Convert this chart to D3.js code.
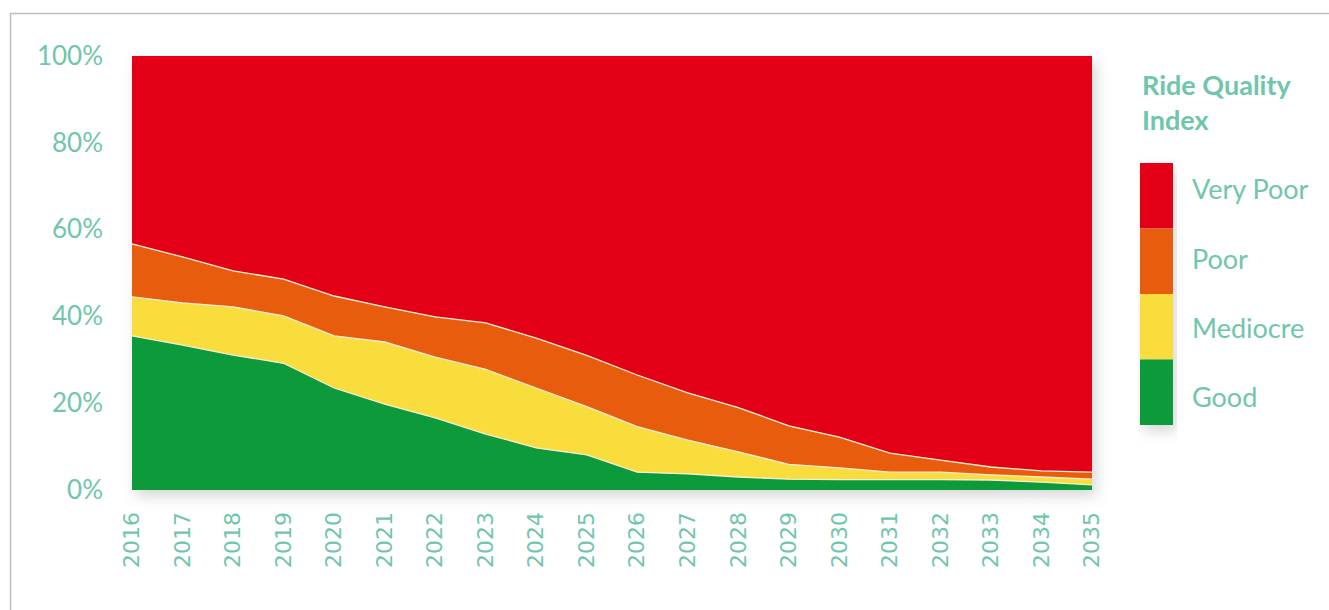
<!DOCTYPE html>
<html>
<head>
<meta charset="utf-8">
<script src="https://cdn.jsdelivr.net/npm/d3@7"></script>
<style>
  html, body { margin: 0; padding: 0; background: #ffffff; }
  svg { display: block; }
</style>
</head>
<body>
<svg id="chart" width="1329" height="610"></svg>
<script>
// ---- data ----
const years = ["2016","2017","2018","2019","2020","2021","2022","2023","2024","2025",
               "2026","2027","2028","2029","2030","2031","2032","2033","2034","2035"];
const good      = [35.5, 33.4, 31.1, 29.2, 23.5, 19.8, 16.6, 12.9, 9.7, 8.1, 4.1, 3.7, 3.0, 2.5, 2.4, 2.4, 2.4, 2.3, 1.8, 1.2];
const mediocre  = [9.0, 9.7, 11.1, 10.9, 12.0, 14.3, 14.0, 14.9, 13.8, 11.1, 10.5, 7.8, 5.8, 3.4, 2.7, 1.7, 1.7, 1.2, 1.2, 1.3];
const poor      = [12.2, 10.6, 8.3, 8.5, 9.2, 8.1, 9.3, 10.7, 11.5, 11.8, 11.9, 10.9, 10.2, 8.9, 7.1, 4.4, 2.8, 1.8, 1.4, 1.6];
const veryPoor  = [43.3, 46.3, 49.5, 51.4, 55.3, 57.8, 60.1, 61.5, 65.0, 69.0, 73.5, 77.6, 81.0, 85.2, 87.8, 91.5, 93.1, 94.7, 95.6, 95.9];
const seriesNames = ["Good", "Mediocre", "Poor", "Very Poor"];
const yTicks = [0, 20, 40, 60, 80, 100];
const legendTitle = ["Ride Quality", "Index"];

// ---- styling ----
const colors = { "Good": "#0a9a3b", "Mediocre": "#f9dd3e", "Poor": "#e85b0e", "Very Poor": "#e30613" };
const textColor = "#70c6aa";

const rows = years.map((y, i) => ({
  year: y, "Good": good[i], "Mediocre": mediocre[i], "Poor": poor[i], "Very Poor": veryPoor[i]
}));

const svg = d3.select("#chart");
const margin = { left: 132, right: 1092, top: 56, bottom: 490 };

const defs = svg.append("defs");
const f = defs.append("filter").attr("id", "shadow")
  .attr("x", "-5%").attr("y", "-5%").attr("width", "115%").attr("height", "125%");
f.append("feDropShadow").attr("dx", 4).attr("dy", 6).attr("stdDeviation", 7)
  .attr("flood-color", "#888").attr("flood-opacity", 0.35);

// outer frame (top and left edges visible)
svg.append("line").attr("x1", 10).attr("x2", 1329).attr("y1", 13.5).attr("y2", 13.5)
  .attr("stroke", "#bdbdbd").attr("stroke-width", 1.5);
svg.append("line").attr("x1", 10.5).attr("x2", 10.5).attr("y1", 13).attr("y2", 610)
  .attr("stroke", "#bdbdbd").attr("stroke-width", 1.5);

const x = d3.scalePoint().domain(years).range([margin.left, margin.right]);
const y = d3.scaleLinear().domain([0, 100]).range([margin.bottom, margin.top]);

const stack = d3.stack().keys(seriesNames);
const stacked = stack(rows);

const area = d3.area()
  .x(d => x(d.data.year))
  .y0(d => y(d[0]))
  .y1(d => y(d[1]));

const topLine = d3.line()
  .x(d => x(d.data.year))
  .y(d => y(d[1]));

const plot = svg.append("g").attr("filter", "url(#shadow)");
plot.selectAll("path.area").data(stacked).enter().append("path")
  .attr("class", "area")
  .attr("d", area)
  .attr("fill", d => colors[d.key]);

// thin light separators between bands
svg.append("g").selectAll("path.sep").data(stacked.slice(0, 3)).enter().append("path")
  .attr("class", "sep")
  .attr("d", topLine)
  .attr("fill", "none")
  .attr("stroke", "#fbeed6")
  .attr("stroke-width", 1.3);

// y axis labels
const yAxis = d3.axisLeft(y).tickValues(yTicks).tickFormat(d => d + "%").tickSize(0).tickPadding(29);
const yg = svg.append("g").attr("transform", `translate(${margin.left},0)`).call(yAxis);
yg.select(".domain").remove();
yg.selectAll("text")
  .attr("fill", textColor)
  .style("font-family", "Lato, 'Open Sans', sans-serif")
  .style("font-size", "26px");

// x axis labels
const xAxis = d3.axisBottom(x).tickSize(0).tickPadding(0);
const xg = svg.append("g").attr("transform", `translate(0,${margin.bottom})`).call(xAxis);
xg.select(".domain").remove();
xg.selectAll("text")
  .attr("fill", textColor)
  .style("font-family", "'DejaVu Sans', Verdana, sans-serif")
  .style("font-size", "22px")
  .attr("text-anchor", "end")
  .attr("dy", "0.35em")
  .attr("transform", "translate(-1,22) rotate(-90)")
  .attr("x", 0).attr("y", 0);

// legend
const lg = svg.append("g");
lg.selectAll("text.title").data(legendTitle).enter().append("text")
  .attr("class", "title")
  .attr("x", 1142)
  .attr("y", (d, i) => 95 + i * 35)
  .attr("fill", textColor)
  .style("font-family", "Lato, 'Open Sans', sans-serif")
  .style("font-weight", "bold")
  .style("font-size", "27px")
  .text(d => d);

const legendOrder = ["Very Poor", "Poor", "Mediocre", "Good"];
const ly = d3.scaleBand().domain(legendOrder).range([163, 425]);
const lt = d3.scalePoint().domain(legendOrder).range([190, 398]);
const sw = lg.append("g").attr("filter", "url(#shadow)");
sw.selectAll("rect").data(legendOrder).enter().append("rect")
  .attr("x", 1140).attr("width", 33)
  .attr("y", d => ly(d)).attr("height", ly.bandwidth())
  .attr("fill", d => colors[d]);
lg.selectAll("text.item").data(legendOrder).enter().append("text")
  .attr("class", "item")
  .attr("x", 1192)
  .attr("y", d => lt(d))
  .attr("dy", "0.35em")
  .attr("fill", textColor)
  .style("font-family", "Lato, 'Open Sans', sans-serif")
  .style("font-size", "27px")
  .text(d => d);
</script>
</body>
</html>
